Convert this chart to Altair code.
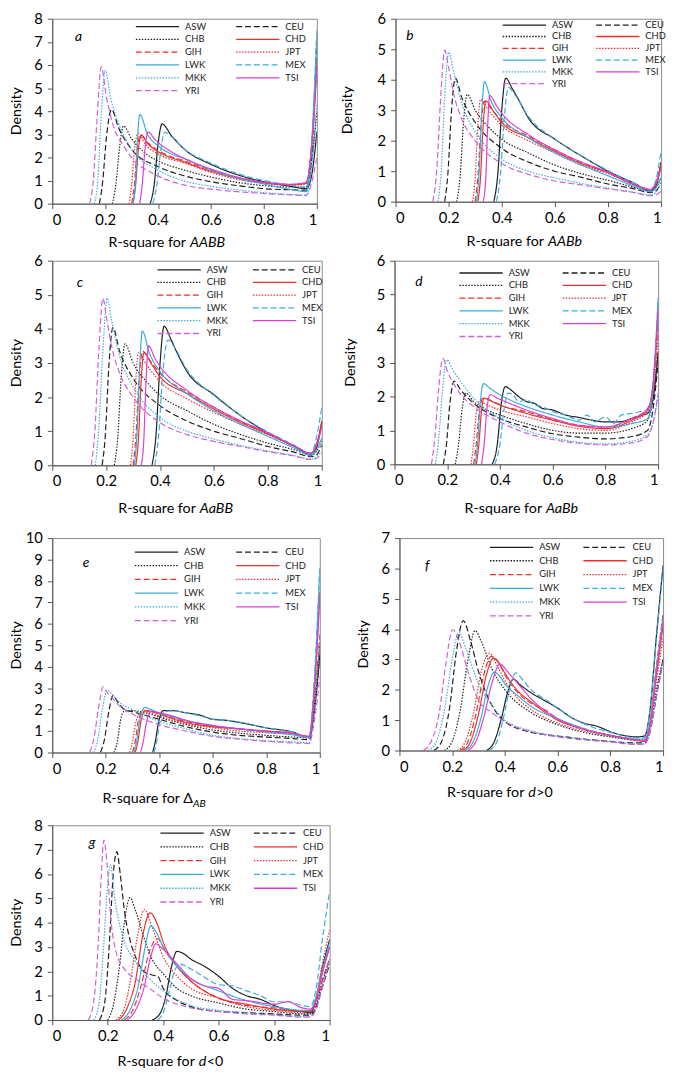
import altair as alt
import pandas as pd

FONT = "Lato"
POPS = ["ASW", "CEU", "CHB", "CHD", "GIH", "JPT", "LWK", "MEX", "MKK", "TSI", "YRI"]
COLORS = ["#1e1e1e", "#1e1e1e", "#1e1e1e", "#ec2f2b", "#ec2f2b", "#ec2f2b",
          "#3aacdc", "#3aacdc", "#3aacdc", "#dc3ed4", "#cf62d8"]
DASHES = [[1, 0], [6, 3], [1.5, 1.5], [1, 0], [6, 3], [1.5, 1.5],
          [1, 0], [6, 3], [1.5, 1.5], [1, 0], [6, 3]]
X_TICKS = [0, 0.2, 0.4, 0.6, 0.8, 1]

# ---------------- panel a : AABB ----------------
A_ASW = [[0.37,0],[0.385,0.8],[0.40,2.6],[0.415,3.45],[0.45,2.95],[0.5,2.35],[0.6,1.7],[0.7,1.25],[0.8,0.95],[0.9,0.75],[0.96,0.65],[0.98,1.2],[1.0,3.1]]
A_CEU = [[0.178,0],[0.19,0.9],[0.205,2.9],[0.224,4.08],[0.25,3.3],[0.3,2.35],[0.4,1.6],[0.5,1.2],[0.6,0.95],[0.7,0.78],[0.8,0.65],[0.9,0.6],[0.96,0.58],[0.98,2.0],[1.0,7.0]]
A_CHB = [[0.227,0],[0.24,0.8],[0.255,2.5],[0.269,3.36],[0.3,2.8],[0.35,2.2],[0.4,1.85],[0.5,1.45],[0.6,1.15],[0.7,0.92],[0.8,0.78],[0.9,0.72],[0.96,0.72],[0.98,1.8],[1.0,4.0]]
A_CHD = [[0.305,0],[0.315,0.8],[0.325,2.3],[0.337,2.95],[0.36,2.6],[0.4,2.25],[0.5,1.8],[0.6,1.4],[0.7,1.1],[0.8,0.9],[0.9,0.82],[0.96,0.88],[0.98,2.5],[1.0,6.1]]
A_GIH = [[0.30,0],[0.31,0.8],[0.32,2.2],[0.333,3.0],[0.36,2.65],[0.4,2.3],[0.5,1.85],[0.6,1.45],[0.7,1.12],[0.8,0.92],[0.9,0.83],[0.96,0.9],[0.98,2.5],[1.0,6.0]]
A_JPT = [[0.29,0],[0.30,0.8],[0.31,2.3],[0.325,3.05],[0.35,2.6],[0.4,2.15],[0.5,1.75],[0.6,1.35],[0.7,1.05],[0.8,0.88],[0.9,0.8],[0.96,0.85],[0.98,2.3],[1.0,5.8]]
A_LWK = [[0.305,0],[0.315,1.0],[0.322,2.8],[0.331,3.86],[0.36,3.0],[0.4,2.5],[0.45,2.15],[0.5,1.95],[0.6,1.45],[0.7,1.1],[0.8,0.85],[0.9,0.62],[0.96,0.52],[0.98,2.5],[1.0,7.3]]
A_MEX = [[0.38,0],[0.395,0.8],[0.41,2.3],[0.425,3.1],[0.45,2.9],[0.5,2.35],[0.6,1.75],[0.7,1.3],[0.8,1.0],[0.9,0.8],[0.96,0.7],[0.98,2.5],[1.0,7.5]]
A_MKK = [[0.16,0],[0.172,1.0],[0.185,3.8],[0.20,5.77],[0.22,4.6],[0.25,3.5],[0.3,2.35],[0.4,1.45],[0.5,0.98],[0.6,0.75],[0.7,0.6],[0.8,0.48],[0.9,0.4],[0.96,0.38],[0.98,1.5],[1.0,4.3]]
A_TSI = [[0.33,0],[0.34,0.8],[0.35,2.3],[0.362,3.1],[0.39,2.75],[0.45,2.25],[0.5,1.95],[0.6,1.5],[0.7,1.15],[0.8,0.92],[0.9,0.84],[0.96,0.92],[0.98,2.4],[1.0,5.9]]
A_YRI = [[0.141,0],[0.155,1.0],[0.17,3.8],[0.185,5.93],[0.205,4.6],[0.23,3.4],[0.27,2.5],[0.3,2.0],[0.4,1.2],[0.5,0.8],[0.6,0.63],[0.7,0.52],[0.8,0.44],[0.9,0.38],[0.96,0.35],[0.98,0.9],[1.0,2.0]]

# ---------------- panel b : AABb ----------------
B_ASW = [[0.37,0],[0.385,0.9],[0.40,3.0],[0.415,4.05],[0.44,3.7],[0.46,3.4],[0.5,2.75],[0.6,2.05],[0.7,1.5],[0.8,1.0],[0.9,0.6],[0.96,0.35],[0.98,0.5],[1.0,1.3]]
B_CEU = [[0.185,0],[0.197,0.9],[0.21,2.9],[0.225,4.05],[0.25,3.4],[0.3,2.6],[0.4,1.75],[0.5,1.3],[0.6,1.0],[0.7,0.8],[0.8,0.58],[0.9,0.42],[0.96,0.3],[0.98,0.35],[1.0,0.6]]
B_CHB = [[0.23,0],[0.243,0.8],[0.256,2.6],[0.27,3.52],[0.3,3.0],[0.35,2.45],[0.4,2.05],[0.5,1.6],[0.6,1.2],[0.7,0.92],[0.8,0.7],[0.9,0.47],[0.96,0.35],[0.98,0.45],[1.0,0.8]]
B_CHD = [[0.31,0],[0.32,0.8],[0.33,2.5],[0.34,3.3],[0.37,2.95],[0.4,2.6],[0.5,2.1],[0.6,1.65],[0.7,1.25],[0.8,0.95],[0.9,0.55],[0.96,0.4],[0.98,0.6],[1.0,1.25]]
B_GIH = [[0.30,0],[0.31,0.8],[0.322,2.5],[0.335,3.3],[0.36,3.05],[0.4,2.65],[0.5,2.15],[0.6,1.7],[0.7,1.28],[0.8,0.97],[0.9,0.57],[0.96,0.4],[0.98,0.6],[1.0,1.2]]
B_JPT = [[0.29,0],[0.30,0.8],[0.31,2.5],[0.32,3.35],[0.35,3.0],[0.4,2.5],[0.5,2.0],[0.6,1.6],[0.7,1.2],[0.8,0.92],[0.9,0.55],[0.96,0.38],[0.98,0.55],[1.0,1.15]]
B_LWK = [[0.305,0],[0.315,1.0],[0.325,3.0],[0.335,3.93],[0.36,3.3],[0.4,2.75],[0.5,2.1],[0.6,1.6],[0.7,1.2],[0.8,0.85],[0.9,0.5],[0.96,0.33],[0.98,0.45],[1.0,0.8]]
B_MEX = [[0.38,0],[0.395,0.9],[0.41,2.8],[0.425,3.75],[0.45,3.5],[0.5,2.8],[0.6,2.05],[0.7,1.5],[0.8,1.02],[0.9,0.6],[0.96,0.38],[0.98,0.7],[1.0,1.67]]
B_MKK = [[0.16,0],[0.172,1.0],[0.185,3.4],[0.20,4.9],[0.22,4.2],[0.25,3.2],[0.3,2.3],[0.4,1.4],[0.5,1.0],[0.6,0.78],[0.7,0.6],[0.8,0.45],[0.9,0.3],[0.96,0.22],[0.98,0.3],[1.0,0.7]]
B_TSI = [[0.33,0],[0.34,0.8],[0.347,2.5],[0.355,3.48],[0.38,3.15],[0.4,2.9],[0.5,2.2],[0.6,1.7],[0.7,1.3],[0.8,0.97],[0.9,0.55],[0.96,0.4],[0.98,0.6],[1.0,1.1]]
B_YRI = [[0.14,0],[0.155,1.0],[0.17,3.4],[0.185,4.97],[0.2,4.4],[0.22,3.5],[0.25,2.7],[0.3,2.0],[0.4,1.25],[0.5,0.9],[0.6,0.68],[0.7,0.55],[0.8,0.42],[0.9,0.3],[0.96,0.2],[0.98,0.22],[1.0,0.35]]

# ---------------- panel c : AaBB ----------------
C_ASW = [[0.37,0],[0.385,0.9],[0.40,3.0],[0.415,4.08],[0.44,3.7],[0.46,3.35],[0.5,2.75],[0.6,2.07],[0.7,1.45],[0.8,0.95],[0.9,0.55],[0.96,0.3],[0.98,0.5],[1.0,1.3]]
C_CEU = [[0.185,0],[0.197,0.9],[0.21,2.9],[0.225,4.04],[0.25,3.35],[0.3,2.55],[0.4,1.75],[0.5,1.3],[0.6,1.0],[0.7,0.78],[0.8,0.55],[0.9,0.38],[0.96,0.25],[0.98,0.3],[1.0,0.6]]
C_CHB = [[0.23,0],[0.243,0.8],[0.256,2.6],[0.27,3.56],[0.3,3.0],[0.35,2.45],[0.4,2.05],[0.5,1.6],[0.6,1.2],[0.7,0.9],[0.8,0.65],[0.9,0.45],[0.96,0.3],[0.98,0.4],[1.0,0.75]]
C_CHD = [[0.31,0],[0.32,0.8],[0.33,2.5],[0.34,3.3],[0.37,2.95],[0.4,2.6],[0.5,2.1],[0.6,1.65],[0.7,1.25],[0.8,0.92],[0.9,0.55],[0.96,0.35],[0.98,0.6],[1.0,1.25]]
C_GIH = [[0.30,0],[0.31,0.8],[0.322,2.5],[0.335,3.35],[0.36,3.1],[0.4,2.7],[0.5,2.15],[0.6,1.7],[0.7,1.28],[0.8,0.95],[0.9,0.57],[0.96,0.35],[0.98,0.6],[1.0,1.2]]
C_JPT = [[0.29,0],[0.30,0.8],[0.31,2.5],[0.32,3.3],[0.35,2.95],[0.4,2.45],[0.5,1.95],[0.6,1.55],[0.7,1.2],[0.8,0.9],[0.9,0.55],[0.96,0.35],[0.98,0.55],[1.0,1.15]]
C_LWK = [[0.305,0],[0.315,1.0],[0.325,3.0],[0.334,3.94],[0.36,3.3],[0.4,2.75],[0.5,2.1],[0.6,1.6],[0.7,1.2],[0.8,0.85],[0.9,0.5],[0.96,0.3],[0.98,0.45],[1.0,0.8]]
C_MEX = [[0.38,0],[0.395,0.9],[0.41,2.7],[0.43,3.68],[0.45,3.5],[0.5,2.8],[0.6,2.05],[0.7,1.45],[0.8,0.98],[0.9,0.58],[0.96,0.35],[0.98,0.8],[1.0,1.7]]
C_MKK = [[0.16,0],[0.172,1.0],[0.188,3.4],[0.204,4.9],[0.22,4.25],[0.25,3.2],[0.3,2.3],[0.4,1.4],[0.5,1.0],[0.6,0.77],[0.7,0.58],[0.8,0.42],[0.9,0.28],[0.96,0.18],[0.98,0.25],[1.0,0.4]]
C_TSI = [[0.33,0],[0.34,0.8],[0.348,2.5],[0.358,3.5],[0.38,3.15],[0.4,2.9],[0.5,2.2],[0.6,1.7],[0.7,1.3],[0.8,0.95],[0.9,0.55],[0.96,0.35],[0.98,0.6],[1.0,1.1]]
C_YRI = [[0.145,0],[0.158,1.0],[0.173,3.4],[0.188,4.9],[0.2,4.4],[0.22,3.5],[0.25,2.7],[0.3,2.0],[0.4,1.25],[0.5,0.9],[0.6,0.7],[0.7,0.55],[0.8,0.4],[0.9,0.27],[0.96,0.17],[0.98,0.2],[1.0,0.35]]

# ---------------- panel d : AaBb ----------------
D_ASW = [[0.37,0],[0.39,0.6],[0.405,1.8],[0.42,2.29],[0.44,2.2],[0.47,2.0],[0.5,1.85],[0.53,1.8],[0.56,1.65],[0.6,1.6],[0.65,1.45],[0.7,1.38],[0.75,1.3],[0.8,1.25],[0.85,1.25],[0.9,1.35],[0.94,1.45],[0.96,1.5],[0.98,1.9],[1.0,3.3]]
D_CEU = [[0.185,0],[0.197,0.6],[0.21,1.8],[0.226,2.45],[0.25,2.2],[0.3,1.8],[0.4,1.35],[0.5,1.1],[0.6,0.9],[0.7,0.8],[0.8,0.75],[0.9,0.82],[0.96,1.0],[0.98,1.6],[1.0,3.0]]
D_CHB = [[0.23,0],[0.243,0.6],[0.256,1.6],[0.27,2.1],[0.3,1.85],[0.35,1.6],[0.4,1.45],[0.5,1.2],[0.6,1.0],[0.7,0.92],[0.8,0.92],[0.9,1.05],[0.96,1.3],[0.98,1.9],[1.0,3.3]]
D_CHD = [[0.31,0],[0.32,0.6],[0.33,1.6],[0.34,1.95],[0.37,1.85],[0.4,1.75],[0.5,1.5],[0.6,1.3],[0.7,1.12],[0.8,1.05],[0.9,1.3],[0.96,1.6],[0.98,2.3],[1.0,4.5]]
D_GIH = [[0.30,0],[0.31,0.6],[0.322,1.6],[0.335,1.95],[0.36,1.9],[0.4,1.75],[0.5,1.55],[0.6,1.32],[0.7,1.15],[0.8,1.1],[0.9,1.35],[0.96,1.65],[0.98,2.2],[1.0,4.2]]
D_JPT = [[0.29,0],[0.30,0.6],[0.31,1.5],[0.322,1.85],[0.35,1.75],[0.4,1.6],[0.5,1.4],[0.6,1.2],[0.7,1.05],[0.8,1.0],[0.9,1.25],[0.96,1.55],[0.98,2.0],[1.0,3.8]]
D_LWK = [[0.305,0],[0.315,0.6],[0.325,1.8],[0.338,2.38],[0.36,2.25],[0.4,2.05],[0.5,1.7],[0.6,1.45],[0.7,1.25],[0.8,1.1],[0.9,1.2],[0.96,1.35],[0.98,2.2],[1.0,4.9]]
D_MEX = [[0.38,0],[0.40,0.6],[0.415,1.6],[0.43,2.1],[0.45,2.05],[0.47,1.85],[0.5,1.9],[0.53,1.75],[0.56,1.7],[0.6,1.55],[0.65,1.45],[0.7,1.3],[0.73,1.45],[0.76,1.25],[0.8,1.4],[0.83,1.2],[0.86,1.45],[0.9,1.5],[0.93,1.55],[0.96,1.6],[0.98,2.4],[1.0,4.8]]
D_MKK = [[0.155,0],[0.168,0.8],[0.182,2.2],[0.198,3.08],[0.22,2.8],[0.25,2.45],[0.3,1.95],[0.4,1.35],[0.5,1.0],[0.6,0.78],[0.7,0.65],[0.8,0.6],[0.9,0.68],[0.96,0.88],[0.98,1.2],[1.0,2.0]]
D_TSI = [[0.33,0],[0.34,0.6],[0.35,1.6],[0.363,2.05],[0.39,1.95],[0.45,1.75],[0.5,1.6],[0.6,1.35],[0.7,1.15],[0.8,1.1],[0.9,1.35],[0.96,1.6],[0.98,2.3],[1.0,4.6]]
D_YRI = [[0.14,0],[0.153,0.8],[0.167,2.2],[0.183,3.12],[0.2,2.75],[0.23,2.3],[0.27,1.9],[0.3,1.7],[0.4,1.25],[0.5,0.92],[0.6,0.73],[0.7,0.62],[0.8,0.57],[0.9,0.63],[0.96,0.82],[0.98,1.2],[1.0,2.1]]

# ---------------- panel e : Delta_AB ----------------
E_ASW = [[0.375,0],[0.385,0.5],[0.397,1.4],[0.415,1.95],[0.45,1.95],[0.5,1.85],[0.55,1.75],[0.6,1.55],[0.65,1.5],[0.7,1.4],[0.8,1.15],[0.9,0.95],[0.96,0.7],[0.98,2.0],[1.0,4.5]]
E_CEU = [[0.18,0],[0.195,0.6],[0.21,1.8],[0.227,2.65],[0.245,2.35],[0.27,2.0],[0.3,1.9],[0.4,1.55],[0.5,1.2],[0.6,0.95],[0.7,0.8],[0.8,0.72],[0.9,0.65],[0.96,0.6],[0.98,2.0],[1.0,4.6]]
E_CHB = [[0.23,0],[0.243,0.5],[0.255,1.5],[0.268,1.92],[0.3,1.95],[0.35,1.85],[0.4,1.65],[0.5,1.3],[0.6,1.05],[0.7,0.9],[0.8,0.8],[0.9,0.72],[0.96,0.68],[0.98,2.2],[1.0,5.0]]
E_CHD = [[0.31,0],[0.32,0.5],[0.332,1.5],[0.348,1.95],[0.38,1.9],[0.4,1.8],[0.5,1.4],[0.6,1.2],[0.7,1.1],[0.8,1.0],[0.9,0.9],[0.96,0.75],[0.98,3.0],[1.0,7.5]]
E_GIH = [[0.30,0],[0.31,0.5],[0.322,1.5],[0.34,1.95],[0.37,1.9],[0.4,1.8],[0.5,1.45],[0.6,1.22],[0.7,1.1],[0.8,1.0],[0.9,0.9],[0.96,0.75],[0.98,2.4],[1.0,5.5]]
E_JPT = [[0.29,0],[0.30,0.5],[0.312,1.4],[0.33,1.85],[0.36,1.85],[0.4,1.7],[0.5,1.35],[0.6,1.15],[0.7,1.0],[0.8,0.92],[0.9,0.85],[0.96,0.72],[0.98,2.2],[1.0,5.2]]
E_LWK = [[0.305,0],[0.315,0.5],[0.327,1.5],[0.346,2.1],[0.37,2.0],[0.4,1.85],[0.5,1.5],[0.6,1.27],[0.7,1.1],[0.8,0.95],[0.9,0.82],[0.96,0.7],[0.98,3.3],[1.0,8.5]]
E_MEX = [[0.38,0],[0.39,0.5],[0.402,1.4],[0.42,1.9],[0.45,1.95],[0.5,1.85],[0.55,1.72],[0.6,1.55],[0.65,1.5],[0.7,1.42],[0.8,1.15],[0.9,0.95],[0.96,0.72],[0.98,3.5],[1.0,8.7]]
E_MKK = [[0.155,0],[0.17,0.6],[0.187,2.0],[0.205,2.9],[0.225,2.7],[0.25,2.35],[0.3,2.0],[0.4,1.45],[0.5,1.1],[0.6,0.8],[0.7,0.65],[0.8,0.55],[0.9,0.5],[0.96,0.45],[0.98,2.0],[1.0,5.3]]
E_TSI = [[0.33,0],[0.34,0.5],[0.352,1.4],[0.37,1.9],[0.4,1.85],[0.45,1.7],[0.5,1.5],[0.6,1.25],[0.7,1.1],[0.8,0.98],[0.9,0.88],[0.96,0.75],[0.98,3.0],[1.0,7.2]]
E_YRI = [[0.14,0],[0.155,0.6],[0.172,2.0],[0.19,3.06],[0.205,2.8],[0.22,2.6],[0.25,2.2],[0.3,1.8],[0.4,1.3],[0.5,1.0],[0.6,0.75],[0.7,0.62],[0.8,0.52],[0.9,0.45],[0.96,0.42],[0.98,1.5],[1.0,3.5]]

# ---------------- panel f : d>0 ----------------
F_ASW = [[0.33,0],[0.36,0.3],[0.385,1.0],[0.41,1.9],[0.432,2.35],[0.46,2.15],[0.5,1.9],[0.55,1.65],[0.6,1.4],[0.65,1.1],[0.7,0.9],[0.75,0.8],[0.8,0.62],[0.85,0.5],[0.9,0.45],[0.93,0.48],[0.95,1.3],[0.975,3.8],[1.0,6.1]]
F_CEU = [[0.13,0],[0.16,0.3],[0.19,1.4],[0.215,3.2],[0.242,4.28],[0.27,3.6],[0.3,2.6],[0.35,1.5],[0.4,0.95],[0.5,0.6],[0.6,0.48],[0.7,0.38],[0.8,0.3],[0.9,0.25],[0.93,0.25],[0.95,0.6],[0.975,1.8],[1.0,3.0]]
F_CHB = [[0.17,0],[0.2,0.3],[0.23,1.3],[0.26,3.0],[0.287,3.95],[0.31,3.6],[0.35,2.7],[0.4,2.0],[0.5,1.25],[0.6,0.85],[0.7,0.6],[0.8,0.45],[0.9,0.35],[0.93,0.35],[0.95,0.7],[0.975,2.0],[1.0,3.0]]
F_CHD = [[0.24,0],[0.27,0.3],[0.3,1.2],[0.33,2.5],[0.357,3.04],[0.38,2.85],[0.4,2.55],[0.45,1.95],[0.5,1.6],[0.6,1.0],[0.7,0.7],[0.8,0.5],[0.9,0.35],[0.93,0.3],[0.95,0.8],[0.975,2.5],[1.0,4.1]]
F_GIH = [[0.23,0],[0.26,0.3],[0.29,1.2],[0.32,2.5],[0.348,3.1],[0.38,2.85],[0.4,2.5],[0.45,1.9],[0.5,1.55],[0.55,1.35],[0.6,1.05],[0.7,0.72],[0.8,0.5],[0.9,0.35],[0.93,0.3],[0.95,0.9],[0.975,2.8],[1.0,4.5]]
F_JPT = [[0.22,0],[0.25,0.3],[0.28,1.2],[0.31,2.6],[0.342,3.2],[0.37,2.8],[0.4,2.3],[0.45,1.7],[0.5,1.35],[0.6,0.9],[0.7,0.65],[0.8,0.48],[0.9,0.32],[0.93,0.3],[0.95,0.8],[0.975,2.3],[1.0,3.7]]
F_LWK = [[0.25,0],[0.28,0.3],[0.31,1.1],[0.335,2.1],[0.36,2.58],[0.38,2.45],[0.4,2.2],[0.45,1.8],[0.5,1.45],[0.6,1.05],[0.7,0.72],[0.8,0.5],[0.9,0.38],[0.93,0.38],[0.95,0.9],[0.975,2.7],[1.0,4.4]]
F_MEX = [[0.34,0],[0.37,0.3],[0.395,1.1],[0.42,2.1],[0.44,2.56],[0.47,2.3],[0.5,2.0],[0.55,1.7],[0.6,1.4],[0.65,1.1],[0.7,0.88],[0.8,0.6],[0.9,0.42],[0.93,0.42],[0.95,1.3],[0.975,3.7],[1.0,6.0]]
F_MKK = [[0.11,0],[0.14,0.3],[0.17,1.3],[0.2,3.0],[0.225,3.9],[0.25,3.4],[0.3,2.2],[0.35,1.5],[0.4,1.0],[0.5,0.65],[0.6,0.47],[0.7,0.37],[0.8,0.3],[0.9,0.22],[0.93,0.22],[0.95,0.6],[0.975,1.8],[1.0,2.9]]
F_TSI = [[0.26,0],[0.29,0.3],[0.32,1.1],[0.35,2.2],[0.382,2.85],[0.41,2.6],[0.45,2.2],[0.5,1.7],[0.6,1.05],[0.7,0.7],[0.8,0.5],[0.9,0.35],[0.93,0.32],[0.95,0.85],[0.975,2.6],[1.0,4.3]]
F_YRI = [[0.09,0],[0.12,0.3],[0.15,1.2],[0.175,2.8],[0.202,3.98],[0.23,3.5],[0.26,2.6],[0.3,1.65],[0.35,1.25],[0.4,0.95],[0.5,0.62],[0.6,0.45],[0.7,0.35],[0.8,0.28],[0.9,0.2],[0.93,0.22],[0.95,0.6],[0.975,1.8],[1.0,2.9]]

# ---------------- panel g : d<0 ----------------
G_ASW = [[0.36,0],[0.39,0.3],[0.41,1.0],[0.43,2.2],[0.449,2.82],[0.47,2.75],[0.5,2.5],[0.55,2.2],[0.6,1.8],[0.65,1.3],[0.7,1.0],[0.75,0.85],[0.8,0.6],[0.9,0.35],[0.93,0.3],[0.95,0.8],[0.975,2.2],[1.0,3.3]]
G_CEU = [[0.17,0],[0.19,0.8],[0.205,3.0],[0.22,6.0],[0.233,6.92],[0.245,6.0],[0.26,4.5],[0.28,3.3],[0.3,2.6],[0.33,2.0],[0.36,1.85],[0.38,1.8],[0.4,1.3],[0.45,0.8],[0.5,0.55],[0.6,0.35],[0.7,0.3],[0.8,0.25],[0.9,0.2],[0.93,0.2],[0.95,0.5],[0.975,1.4],[1.0,2.3]]
G_CHB = [[0.2,0],[0.22,0.6],[0.24,2.0],[0.26,4.0],[0.28,5.03],[0.3,4.5],[0.33,3.4],[0.36,2.5],[0.4,1.9],[0.45,1.3],[0.5,1.0],[0.6,0.7],[0.7,0.45],[0.8,0.35],[0.9,0.25],[0.93,0.25],[0.95,0.6],[0.975,1.6],[1.0,2.5]]
G_CHD = [[0.24,0],[0.27,0.5],[0.3,1.6],[0.325,3.4],[0.353,4.4],[0.38,3.9],[0.4,3.2],[0.45,2.2],[0.5,1.6],[0.6,0.9],[0.7,0.65],[0.8,0.45],[0.9,0.35],[0.93,0.35],[0.95,0.8],[0.975,2.0],[1.0,3.0]]
G_GIH = [[0.26,0],[0.29,0.4],[0.32,1.4],[0.35,2.8],[0.38,3.35],[0.4,3.0],[0.45,2.2],[0.5,1.6],[0.6,0.9],[0.7,0.6],[0.8,0.5],[0.9,0.35],[0.93,0.35],[0.95,0.7],[0.975,1.7],[1.0,2.5]]
G_JPT = [[0.23,0],[0.26,0.5],[0.28,1.5],[0.305,3.3],[0.332,4.54],[0.36,3.8],[0.4,2.6],[0.45,1.8],[0.5,1.3],[0.6,0.9],[0.7,0.55],[0.8,0.4],[0.9,0.3],[0.93,0.3],[0.95,0.9],[0.975,2.4],[1.0,3.7]]
G_LWK = [[0.25,0],[0.28,0.4],[0.31,1.4],[0.335,3.0],[0.355,3.87],[0.38,3.5],[0.4,3.0],[0.45,2.2],[0.5,1.7],[0.6,1.2],[0.7,0.8],[0.8,0.55],[0.9,0.4],[0.93,0.4],[0.95,0.9],[0.975,2.1],[1.0,3.2]]
G_MEX = [[0.38,0],[0.4,0.3],[0.42,1.1],[0.44,2.0],[0.46,2.3],[0.5,2.1],[0.55,1.75],[0.6,1.45],[0.65,1.4],[0.7,1.2],[0.75,1.0],[0.8,0.75],[0.85,0.75],[0.9,0.6],[0.93,0.55],[0.95,1.2],[0.975,3.4],[1.0,5.3]]
G_MKK = [[0.15,0],[0.17,0.8],[0.185,3.0],[0.2,5.6],[0.21,6.38],[0.225,5.0],[0.25,3.6],[0.3,2.4],[0.35,1.7],[0.4,1.2],[0.5,0.6],[0.6,0.4],[0.7,0.3],[0.8,0.22],[0.9,0.15],[0.93,0.15],[0.95,0.45],[0.975,1.5],[1.0,2.5]]
G_TSI = [[0.27,0],[0.3,0.4],[0.33,1.3],[0.355,2.6],[0.373,3.13],[0.4,2.9],[0.45,2.3],[0.5,1.7],[0.55,1.4],[0.6,1.3],[0.65,0.85],[0.7,0.8],[0.8,0.65],[0.85,0.75],[0.9,0.5],[0.93,0.45],[0.95,0.8],[0.975,2.0],[1.0,3.0]]
G_YRI = [[0.13,0],[0.15,0.8],[0.165,3.0],[0.177,6.0],[0.186,7.39],[0.197,6.5],[0.21,4.3],[0.23,2.8],[0.26,2.1],[0.3,1.7],[0.35,1.3],[0.4,0.9],[0.5,0.5],[0.6,0.35],[0.7,0.25],[0.8,0.2],[0.9,0.12],[0.93,0.12],[0.95,0.4],[0.975,1.4],[1.0,2.4]]

CURVES = {
    "a": [A_ASW, A_CEU, A_CHB, A_CHD, A_GIH, A_JPT, A_LWK, A_MEX, A_MKK, A_TSI, A_YRI],
    "b": [B_ASW, B_CEU, B_CHB, B_CHD, B_GIH, B_JPT, B_LWK, B_MEX, B_MKK, B_TSI, B_YRI],
    "c": [C_ASW, C_CEU, C_CHB, C_CHD, C_GIH, C_JPT, C_LWK, C_MEX, C_MKK, C_TSI, C_YRI],
    "d": [D_ASW, D_CEU, D_CHB, D_CHD, D_GIH, D_JPT, D_LWK, D_MEX, D_MKK, D_TSI, D_YRI],
    "e": [E_ASW, E_CEU, E_CHB, E_CHD, E_GIH, E_JPT, E_LWK, E_MEX, E_MKK, E_TSI, E_YRI],
    "f": [F_ASW, F_CEU, F_CHB, F_CHD, F_GIH, F_JPT, F_LWK, F_MEX, F_MKK, F_TSI, F_YRI],
    "g": [G_ASW, G_CEU, G_CHB, G_CHD, G_GIH, G_JPT, G_LWK, G_MEX, G_MKK, G_TSI, G_YRI],
}
Y_MAX = {"a": 8, "b": 6, "c": 6, "d": 6, "e": 10, "f": 7, "g": 8}
# title pieces: (text, italic, fontsize, dx from anchor, dy, align)
TITLES = {
    "a": [("R-square for", False, 14.5, -4, 0, "right"), ("AABB", True, 14.5, 0, 0, "left")],
    "b": [("R-square for", False, 14.5, -4, 0, "right"), ("AABb", True, 14.5, 0, 0, "left")],
    "c": [("R-square for", False, 14.5, -4, 0, "right"), ("AaBB", True, 14.5, 0, 0, "left")],
    "d": [("R-square for", False, 14.5, -4, 0, "right"), ("AaBb", True, 14.5, 0, 0, "left")],
    "e": [("R-square for \u0394", False, 14.5, 0, 0, "right"), ("AB", True, 10.5, 0, 5, "left")],
    "f": [("R-square for", False, 14.5, -4, 0, "right"), ("d", True, 14.5, 0, 0, "left"), (">0", False, 14.5, 8, 0, "left")],
    "g": [("R-square for", False, 14.5, -4, 0, "right"), ("d", True, 14.5, 0, 0, "left"), ("<0", False, 14.5, 8, 0, "left")],
}

# layout (pixels)
LAYOUT = {
    #     w    h  densDist legX legY colPad rowH  labX labY  titleX titleY
    "a": (269, 188, 36, 84, 1.5, 29, 13.0, 23, 19, 140, 40),
    "b": (270, 186, 48, 108, 0.4, 22, 11.3, 11, 18, 155, 41),
    "c": (274, 208, 36, 106, 2.9, 24, 12.2, 25, 23, 150, 45),
    "d": (268, 207, 44, 65, 6.0, 32, 12.1, 21, 22, 154, 45),
    "e": (272, 218, 36, 83, 7.3, 30, 13.3, 31, 25, 143, 47),
    "f": (268, 216, 36, 91, 2.5, 22, 13.1, 26, 28, 131, 43),
    "g": (282, 198, 36, 109, 1.0, 22, 14.0, 37, 18, 149, 43),
}


def text_layer(text, x, y, size, italic=False, align="center", angle=0):
    return alt.Chart(pd.DataFrame({"t": [text]})).mark_text(
        font=FONT, fontSize=size, fontStyle="italic" if italic else "normal",
        align=align, baseline="middle", color="black", angle=angle,
    ).encode(x=alt.value(x), y=alt.value(y), text="t:N")


def make_panel(key):
    w, h, dist, lx, ly, cpad, rowh, labx, laby, tx, ty = LAYOUT[key]
    ymax = Y_MAX[key]
    rows = []
    for pop, pts in zip(POPS, CURVES[key]):
        for i, (x, y) in enumerate(pts):
            rows.append({"pop": pop, "x": x, "y": y, "i": i})
    df = pd.DataFrame(rows)
    leg = alt.Legend(
        title=None, orient="none", legendX=lx, legendY=ly, columns=2, direction="horizontal",
        symbolType="stroke", symbolSize=1936, symbolStrokeWidth=1.3, clipHeight=rowh,
        labelFont=FONT, labelFontSize=9.5, labelOffset=5, labelColor="#222222",
        columnPadding=cpad, rowPadding=0, padding=0,
    )
    lines = alt.Chart(df).mark_line(strokeWidth=1.2, interpolate="monotone", clip=True).encode(
        x=alt.X("x:Q", scale=alt.Scale(domain=[0, 1], nice=False),
                axis=alt.Axis(values=X_TICKS, format="~g", title=None, labelPadding=4)),
        y=alt.Y("y:Q", scale=alt.Scale(domain=[0, ymax], nice=False),
                axis=alt.Axis(values=list(range(ymax + 1)), title=None, labelPadding=5)),
        color=alt.Color("pop:N", scale=alt.Scale(domain=POPS, range=COLORS), legend=leg),
        strokeDash=alt.StrokeDash("pop:N", scale=alt.Scale(domain=POPS, range=DASHES), legend=leg),
        order=alt.Order("i:Q"),
    )
    layers = [lines,
              text_layer(key, labx, laby, 14, italic=True, align="left"),
              text_layer("Density", -dist, h / 2, 14.5, angle=270)]
    for text, ital, fs, dx, dy, al in TITLES[key]:
        layers.append(text_layer(text, tx + dx, h + ty + dy, fs, italic=ital, align=al))
    return alt.layer(*layers).properties(width=w, height=h)


def indep(c):
    return c.resolve_scale(color="independent", strokeDash="independent").resolve_legend(
        color="independent", strokeDash="independent")


row1 = indep(alt.hconcat(make_panel("a"), make_panel("b"), spacing=22))
row2 = indep(alt.hconcat(make_panel("c"), make_panel("d"), spacing=19))
row3 = indep(alt.hconcat(make_panel("e"), make_panel("f"), spacing=35))
row4 = indep(alt.hconcat(make_panel("g"), spacing=0))

bottom = indep(alt.vconcat(row3, row4, spacing=8))
middle = indep(alt.vconcat(row2, bottom, spacing=14))
chart = indep(alt.vconcat(row1, middle, spacing=3)).properties(
    padding={"left": 0, "top": -6, "right": 0, "bottom": 0},
    background="white",
).configure_view(
    stroke="#8a8a8a", strokeWidth=1
).configure_axis(
    grid=False, domainColor="#555555", tickColor="#555555", tickSize=5,
    labelFont=FONT, labelFontSize=15, labelColor="black",
)

chart.save("out.html", embed_options={"renderer": "svg", "actions": False})
